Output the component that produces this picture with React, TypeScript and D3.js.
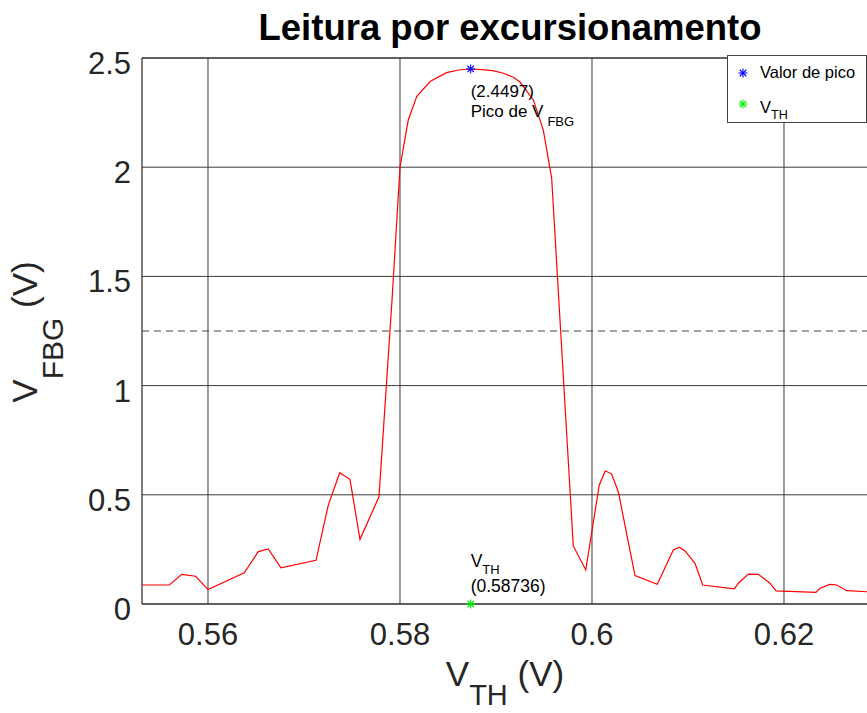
import React from 'react';
import * as d3 from 'd3';

// data
const vth = [
  0.55313, 0.55597, 0.55726, 0.55872, 0.56, 0.56378, 0.56524, 0.56628, 0.5676, 0.57125,
  0.57253, 0.57372, 0.57479, 0.57583, 0.57781, 0.57917, 0.58, 0.58086, 0.58174, 0.58313,
  0.58486, 0.5861, 0.58736, 0.5886, 0.5898, 0.59076, 0.5918, 0.5925, 0.59389, 0.59493,
  0.5958, 0.59805, 0.59935, 0.60076, 0.60139, 0.60205, 0.60274, 0.60448, 0.6068, 0.60847,
  0.6091, 0.60969, 0.61073, 0.61153, 0.61482, 0.61524, 0.61628, 0.61733, 0.61854, 0.61917,
  0.62333, 0.62375, 0.62479, 0.62549, 0.62653, 0.62917,
];
const vfbg = [
  0.087, 0.087, 0.136, 0.127, 0.066, 0.143, 0.24, 0.252, 0.166, 0.2,
  0.453, 0.601, 0.571, 0.296, 0.491, 1.392, 2.0, 2.216, 2.323, 2.392,
  2.433, 2.445, 2.4497, 2.447, 2.441, 2.43, 2.412, 2.39, 2.308, 2.17,
  1.949, 0.266, 0.156, 0.545, 0.61, 0.595, 0.514, 0.13, 0.09, 0.247,
  0.26, 0.243, 0.186, 0.087, 0.069, 0.095, 0.137, 0.136, 0.095, 0.06,
  0.053, 0.072, 0.09, 0.087, 0.061, 0.055,
];
const xTicks = [0.56, 0.58, 0.6, 0.62];
const yTicks = [0, 0.5, 1, 1.5, 2, 2.5];
const peak = { x: 0.58736, y: 2.4497 };
const threshold = { x: 0.58736, y: 0 };
const halfLevel = 1.25;

const FONT = '"Liberation Sans", Arial, Helvetica, sans-serif';

// octave style "*" marker
const Star = ({ cx, cy, color }: { cx: number; cy: number; color: string }) => {
  const r = 4.5;
  const d = r * 0.72;
  return (
    <g stroke={color} strokeWidth={1.1}>
      <line x1={cx - r} y1={cy} x2={cx + r} y2={cy} />
      <line x1={cx} y1={cy - r} x2={cx} y2={cy + r} />
      <line x1={cx - d} y1={cy - d} x2={cx + d} y2={cy + d} />
      <line x1={cx - d} y1={cy + d} x2={cx + d} y2={cy - d} />
    </g>
  );
};

export default function App() {
  const width = 867;
  const height = 713;
  const left = 142, right = 872, top = 58, bottom = 604;

  const x = d3.scaleLinear().domain([0.553125, 0.629167]).range([left, right]);
  const y = d3.scaleLinear().domain([0, 2.5]).range([bottom, top]);

  const points = vth.map((v, i) => [v, vfbg[i]] as [number, number]);
  const line = d3.line<[number, number]>()
    .x(d => x(d[0]))
    .y(d => y(d[1]));

  const grid = '#3a3a3a';
  const tickColor = '#262626';

  return (
    <svg width={width} height={height}
      style={{ position: 'fixed', left: 0, top: 0, background: '#fff' }}
      fontFamily={FONT}>
      {/* title */}
      <text x={510} y={40} textAnchor="middle" fontSize={36.5} fontWeight="bold" fill="#000">
        Leitura por excursionamento
      </text>

      {/* grid */}
      {yTicks.map(t => (
        <line key={'gy' + t} x1={left} x2={right} y1={y(t)} y2={y(t)} stroke={grid} strokeWidth={1} />
      ))}
      {xTicks.map(t => (
        <line key={'gx' + t} x1={x(t)} x2={x(t)} y1={top} y2={bottom} stroke={grid} strokeWidth={1} />
      ))}
      {/* axes box */}
      <line x1={left} x2={left} y1={top} y2={bottom} stroke="#262626" strokeWidth={1.2} />
      <line x1={left} x2={right} y1={bottom} y2={bottom} stroke="#262626" strokeWidth={1.2} />
      <line x1={left} x2={right} y1={top} y2={top} stroke="#262626" strokeWidth={1.2} />

      {/* tick labels */}
      {yTicks.map(t => (
        <text key={'ty' + t} x={131} y={y(t) + 16} textAnchor="end" fontSize={31} fill={tickColor}>
          {d3.format('~g')(t)}
        </text>
      ))}
      {xTicks.map(t => (
        <text key={'tx' + t} x={x(t)} y={645} textAnchor="middle" fontSize={31} fill={tickColor}>
          {d3.format('~g')(t)}
        </text>
      ))}

      {/* axis labels */}
      <text x={505} y={686} textAnchor="middle" fontSize={35} fill={tickColor}>
        V<tspan fontSize={29} dy={19}>TH</tspan><tspan dy={-19} fontSize={35}> (V)</tspan>
      </text>
      <text transform={`translate(37,332) rotate(-90)`} textAnchor="middle" fontSize={35} fill={tickColor}>
        V<tspan fontSize={30} dy={26}>FBG</tspan><tspan dy={-26} fontSize={35}> (V)</tspan>
      </text>

      {/* half level dashed line */}
      <line x1={left} x2={right} y1={y(halfLevel)} y2={y(halfLevel)}
        stroke="#444" strokeWidth={1.2} strokeDasharray="7,5" />

      {/* curve */}
      <path d={line(points) || ''} fill="none" stroke="#ff0000" strokeWidth={1.2} />

      {/* markers */}
      <Star cx={x(peak.x)} cy={y(peak.y)} color="#0000ff" />
      <Star cx={x(threshold.x)} cy={y(threshold.y)} color="#00ee00" />

      {/* annotations */}
      <text x={x(peak.x)} y={97} fontSize={17} fill="#000">({peak.y})</text>
      <text x={x(peak.x)} y={117} fontSize={17} fill="#000">
        Pico de V<tspan fontSize={13} dx={4} dy={9}>FBG</tspan>
      </text>
      <text x={x(threshold.x)} y={567} fontSize={17.5} fill="#000">
        V<tspan fontSize={13} dy={7}>TH</tspan>
      </text>
      <text x={x(threshold.x)} y={592} fontSize={17.5} fill="#000">({threshold.x})</text>

      {/* legend */}
      <rect x={727.5} y={55.5} width={139} height={67} fill="#fff" stroke="#444" strokeWidth={1} />
      <Star cx={743} cy={73} color="#0000ff" />
      <text x={760} y={78} fontSize={16.5} fill="#000">Valor de pico</text>
      <Star cx={743} cy={104} color="#00ee00" />
      <text x={760} y={113} fontSize={16.5} fill="#000">
        V<tspan fontSize={12.5} dy={6}>TH</tspan>
      </text>
    </svg>
  );
}
